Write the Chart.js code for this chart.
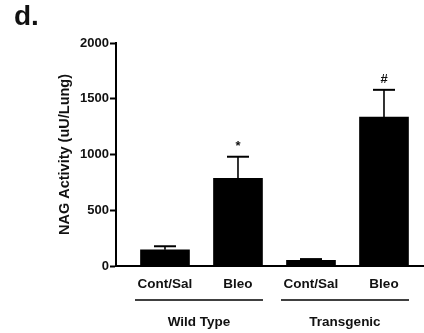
<!DOCTYPE html>
<html>
<head>
<meta charset="utf-8">
<script src="https://cdn.jsdelivr.net/npm/chart.js@4"></script>
<style>
  html, body { margin: 0; padding: 0; background: #fff; }
  #nag-chart { display: block; }
</style>
</head>
<body>
<canvas id="nag-chart" width="424" height="333"></canvas>
<script>
var categories = ['Cont/Sal', 'Bleo', 'Cont/Sal', 'Bleo'];
var nagMeans = [145, 787, 50, 1335];
var nagErrors = [32, 193, 12, 245];
var sigMarks = ['', '*', '', '#'];
var groupNames = ['Wild Type', 'Transgenic'];
var groupMembers = [[1, 2], [3, 4]];
var yTicks = [0, 500, 1000, 1500, 2000];

var FONT = '"Liberation Sans", Arial, Helvetica, sans-serif';
var nagChart = document.getElementById('nag-chart');

// error bars, significance marks, group lines and panel letter
var extrasPlugin = {
    id: 'extras',
    afterDatasetsDraw: function (chart) {
        var ctx = chart.ctx;
        var xs = chart.scales.x;
        var ys = chart.scales.y;
        ctx.save();
        ctx.strokeStyle = '#000';
        ctx.fillStyle = '#111';
        nagMeans.forEach(function (m, i) {
            var x = xs.getPixelForValue(i + 1);
            var yTop = ys.getPixelForValue(m);
            var yErr = ys.getPixelForValue(m + nagErrors[i]);
            ctx.lineWidth = 1.6;
            ctx.beginPath();
            ctx.moveTo(x, yTop);
            ctx.lineTo(x, yErr);
            ctx.stroke();
            ctx.lineWidth = 2;
            ctx.beginPath();
            ctx.moveTo(x - 11, yErr);
            ctx.lineTo(x + 11, yErr);
            ctx.stroke();
            if (sigMarks[i]) {
                ctx.font = 'bold 13px ' + FONT;
                ctx.textAlign = 'center';
                ctx.textBaseline = 'alphabetic';
                ctx.fillText(sigMarks[i], x, yErr - 7);
            }
        });
        groupNames.forEach(function (g, i) {
            var x0 = xs.getPixelForValue(groupMembers[i][0]) - 30;
            var x1 = xs.getPixelForValue(groupMembers[i][1]) + 25;
            ctx.lineWidth = 1.5;
            ctx.beginPath();
            ctx.moveTo(x0, 300);
            ctx.lineTo(x1, 300);
            ctx.stroke();
            ctx.font = 'bold 13.5px ' + FONT;
            ctx.textAlign = 'center';
            ctx.textBaseline = 'middle';
            ctx.fillText(g, (x0 + x1) / 2, 322);
        });
        ctx.font = 'bold 28px ' + FONT;
        ctx.textAlign = 'left';
        ctx.textBaseline = 'alphabetic';
        ctx.fillText('d.', 14, 25);
        ctx.restore();
    }
};

new Chart(nagChart, {
    type: 'bar',
    data: {
        datasets: [
            {
                label: 'NAG Activity',
                data: nagMeans.map(function (v, i) { return { x: i + 1, y: v }; }),
                backgroundColor: '#000',
                borderWidth: 0,
                barThickness: 49
            }
        ]
    },
    options: {
        responsive: false,
        animation: false,
        layout: { padding: { top: 43, left: 0, right: 0, bottom: 0 } },
        plugins: {
            legend: { display: false },
            tooltip: { enabled: false }
        },
        scales: {
            x: {
                type: 'linear',
                offset: false,
                min: 0.329,
                max: 4.548,
                grid: { offset: false, drawOnChartArea: false, drawTicks: false },
                border: { display: true, color: '#000', width: 2 },
                afterBuildTicks: function (scale) {
                    scale.ticks = categories.map(function (c, i) { return { value: i + 1 }; });
                },
                afterFit: function (scale) { scale.height = 67; },
                ticks: {
                    padding: 10,
                    color: '#111',
                    maxRotation: 0,
                    autoSkip: false,
                    font: { family: FONT, size: 13.5, weight: 'bold' },
                    callback: function (v) { return categories[v - 1]; }
                }
            },
            y: {
                min: 0,
                max: 2000,
                grid: { drawOnChartArea: false, drawTicks: true, tickLength: 6, tickWidth: 2, tickColor: '#000' },
                border: { display: true, color: '#000', width: 2 },
                afterBuildTicks: function (scale) {
                    scale.ticks = yTicks.map(function (v) { return { value: v }; });
                },
                afterFit: function (scale) { scale.width = 116; },
                ticks: {
                    padding: 1,
                    color: '#111',
                    font: { family: FONT, size: 13, weight: 'bold' },
                    callback: function (v) { return String(v); }
                },
                title: {
                    display: true,
                    text: 'NAG Activity (uU/Lung)',
                    color: '#111',
                    padding: { top: 56, bottom: 0 },
                    font: { family: FONT, size: 14.5, weight: 'bold' }
                }
            }
        }
    },
    plugins: [extrasPlugin]
});
</script>
</body>
</html>
